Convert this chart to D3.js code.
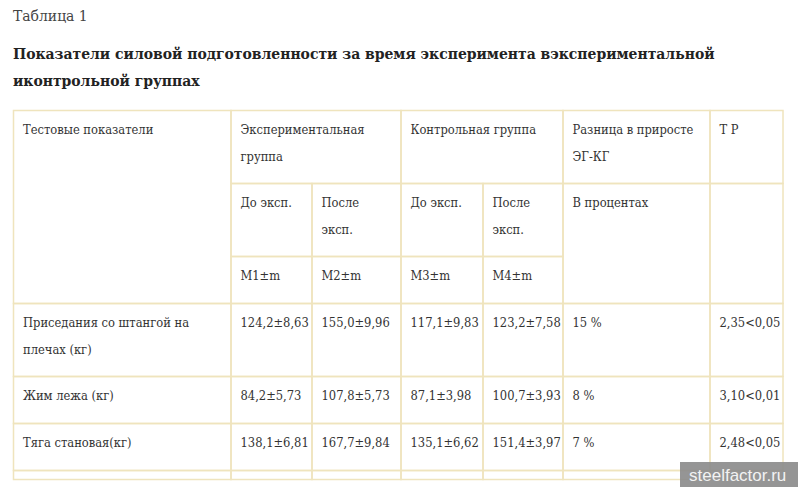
<!DOCTYPE html>
<html>
<head>
<meta charset="utf-8">
<script src="https://cdn.jsdelivr.net/npm/d3@7"></script>
<style>
  body { margin: 0; background: #fff; }
  svg text { font-family: "DejaVu Serif Condensed", "DejaVu Serif", serif; font-stretch: condensed; fill: #333; }
</style>
</head>
<body>
<svg id="table"></svg>
<script>
// Table data
const caption = "Таблица 1";
const titleLines = [
    "Показатели силовой подготовленности за время эксперимента вэкспериментальной",
    "иконтрольной группах"
];
const headerCells = [
    { lines: ["Тестовые показатели"], col: 0, row: 0, colspan: 1, rowspan: 3 },
    { lines: ["Экспериментальная", "группа"], col: 1, row: 0, colspan: 2, rowspan: 1 },
    { lines: ["Контрольная группа"], col: 3, row: 0, colspan: 2, rowspan: 1 },
    { lines: ["Разница в приросте", "ЭГ-КГ"], col: 5, row: 0, colspan: 1, rowspan: 1 },
    { lines: ["Т Р"], col: 6, row: 0, colspan: 1, rowspan: 1 },
    { lines: ["До эксп."], col: 1, row: 1, colspan: 1, rowspan: 1 },
    { lines: ["После", "эксп."], col: 2, row: 1, colspan: 1, rowspan: 1 },
    { lines: ["До эксп."], col: 3, row: 1, colspan: 1, rowspan: 1 },
    { lines: ["После", "эксп."], col: 4, row: 1, colspan: 1, rowspan: 1 },
    { lines: ["В процентах"], col: 5, row: 1, colspan: 1, rowspan: 2 },
    { lines: [""], col: 6, row: 1, colspan: 1, rowspan: 2 },
    { lines: ["M1±m"], col: 1, row: 2, colspan: 1, rowspan: 1 },
    { lines: ["M2±m"], col: 2, row: 2, colspan: 1, rowspan: 1 },
    { lines: ["M3±m"], col: 3, row: 2, colspan: 1, rowspan: 1 },
    { lines: ["M4±m"], col: 4, row: 2, colspan: 1, rowspan: 1 }
];
const tests = [["Приседания со штангой на", "плечах (кг)"], ["Жим лежа (кг)"], ["Тяга становая(кг)"]];
const m1 = [124.2, 84.2, 138.1];
const m1Err = [8.63, 5.73, 6.81];
const m2 = [155.0, 107.8, 167.7];
const m2Err = [9.96, 5.73, 9.84];
const m3 = [117.1, 87.1, 135.1];
const m3Err = [9.83, 3.98, 6.62];
const m4 = [123.2, 100.7, 151.4];
const m4Err = [7.58, 3.93, 3.97];
const diffPct = [15, 8, 7];
const tValue = [2.35, 3.10, 2.48];
const pValue = [0.05, 0.01, 0.05];

// Layout
const W = 798, H = 487;
const LAYOUT = {
    left: 13.5, top: 110.5,
    colWidths: [217.5, 81, 89, 82, 80, 147, 73],
    rowHeights: [73, 73, 47, 73, 47, 47, 9],
    padX: 9.5, firstBase: 23, lineH: 27,
    border: "#efe4bd"
};

const svg = d3.select("#table").attr("width", W).attr("height", H);

const colX = d3.cumsum([0, ...LAYOUT.colWidths]).map(d => d + LAYOUT.left);
const rowY = d3.cumsum([0, ...LAYOUT.rowHeights]).map(d => d + LAYOUT.top);

const fmt = d3.format(".1f"), fmt2 = d3.format(".2f");
const comma = s => s.replace(".", ",");
const pm = (m, e) => comma(fmt(m)) + "±" + comma(fmt2(e));

// Body cells
const bodyCells = [];
tests.forEach((t, i) => {
    const r = 3 + i;
    const vals = [
        t,
        [pm(m1[i], m1Err[i])], [pm(m2[i], m2Err[i])],
        [pm(m3[i], m3Err[i])], [pm(m4[i], m4Err[i])],
        [diffPct[i] + " %"],
        [comma(fmt2(tValue[i])) + "<" + comma(fmt2(pValue[i]))]
    ];
    vals.forEach((lines, c) => bodyCells.push({ lines, col: c, row: r, colspan: 1, rowspan: 1 }));
});
// trailing empty row
LAYOUT.colWidths.forEach((_, c) => bodyCells.push({ lines: [""], col: c, row: 6, colspan: 1, rowspan: 1 }));

const cells = headerCells.concat(bodyCells);

// Caption and title
svg.append("text").attr("x", 13).attr("y", 21)
    .style("font-size", "15.5px").style("fill", "#444")
    .text(caption);

svg.append("g").selectAll("text").data(titleLines).join("text")
    .attr("x", 13).attr("y", (d, i) => 59 + i * 27)
    .style("font-size", "15.5px").style("font-weight", "bold").style("fill", "#222")
    .text(d => d);

// Cells
const g = svg.append("g");
const cell = g.selectAll("g.cell").data(cells).join("g").attr("class", "cell");

cell.append("rect")
    .attr("x", d => colX[d.col])
    .attr("y", d => rowY[d.row])
    .attr("width", d => colX[d.col + d.colspan] - colX[d.col])
    .attr("height", d => rowY[d.row + d.rowspan] - rowY[d.row])
    .attr("fill", "none")
    .attr("stroke", LAYOUT.border)
    .attr("stroke-width", 1.5);

cell.each(function(d) {
    d3.select(this).selectAll("text").data(d.lines).join("text")
        .attr("x", colX[d.col] + LAYOUT.padX)
        .attr("y", (t, i) => rowY[d.row] + LAYOUT.firstBase + i * LAYOUT.lineH)
        .style("font-size", "12.8px")
        .text(t => t);
});

// Watermark
const wm = svg.append("g");
wm.append("rect").attr("x", 680).attr("y", 462).attr("width", 118).attr("height", 25)
    .attr("fill", "#8c8c8c").attr("opacity", 0.92);
wm.append("text").attr("x", 689).attr("y", 481)
    .style("font-family", "'Liberation Sans', Arial, sans-serif")
    .style("font-size", "17px").style("fill", "#f2f2f2")
    .text("steelfactor.ru");
</script>
</body>
</html>
